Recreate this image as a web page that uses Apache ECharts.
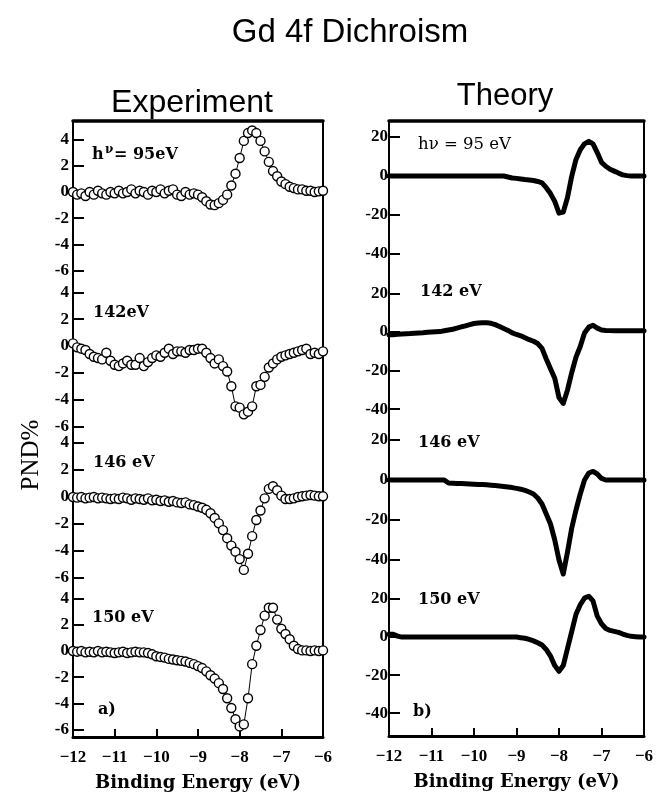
<!DOCTYPE html>
<html><head><meta charset="utf-8">
<script src="https://cdn.jsdelivr.net/npm/echarts@6/dist/echarts.min.js"></script>
<style>html,body{margin:0;padding:0;background:#fff}#c{width:658px;height:793px}</style>
</head><body><div id="c"></div>
<script>
// ---- data ----
const energy = [-12.0,-11.9,-11.8,-11.7,-11.6,-11.5,-11.4,-11.3,-11.2,-11.1,-11.0,-10.9,-10.8,-10.7,-10.6,-10.5,-10.4,-10.3,-10.2,-10.1,-10.0,-9.9,-9.8,-9.7,-9.6,-9.5,-9.4,-9.3,-9.2,-9.1,-9.0,-8.9,-8.8,-8.7,-8.6,-8.5,-8.4,-8.3,-8.2,-8.1,-8.0,-7.9,-7.8,-7.7,-7.6,-7.5,-7.4,-7.3,-7.2,-7.1,-7.0,-6.9,-6.8,-6.7,-6.6,-6.5,-6.4,-6.3,-6.2,-6.1,-6.0];

const exp95 = [0.0,-0.2,-0.1,-0.3,0.0,-0.2,0.1,-0.1,-0.2,0.0,
-0.1,0.1,-0.1,0.0,0.2,-0.1,0.1,0.0,-0.2,0.1,
0.0,0.2,-0.1,0.1,0.2,-0.2,-0.3,0.0,-0.2,-0.1,
-0.2,-0.4,-0.7,-0.95,-1.0,-0.85,-0.6,-0.2,0.5,1.4,
2.6,3.9,4.5,4.7,4.5,3.9,3.1,2.3,1.6,1.2,
0.8,0.6,0.4,0.3,0.2,0.2,0.1,0.1,0.0,0.05,
0.1];
const exp142 = [0.2,-0.1,-0.2,-0.3,-0.6,-0.8,-0.9,-1.0,-0.5,-1.1,
-1.4,-1.5,-1.3,-1.1,-1.4,-1.4,-0.9,-1.5,-1.2,-0.9,
-0.7,-0.8,-0.5,-0.2,-0.6,-0.4,-0.4,-0.5,-0.3,-0.3,
-0.2,-0.2,-0.5,-0.9,-1.3,-1.0,-1.5,-1.9,-3.0,-4.5,
-4.6,-5.1,-4.9,-4.5,-3.0,-2.9,-2.3,-1.6,-1.3,-1.0,
-0.8,-0.7,-0.6,-0.5,-0.4,-0.3,-0.2,-0.6,-0.5,-0.6,
-0.4];
const exp146 = [0.0,-0.05,0.0,-0.1,-0.05,0.0,-0.1,-0.05,-0.1,-0.15,
-0.1,-0.15,-0.05,-0.1,-0.2,-0.1,-0.15,-0.2,-0.1,-0.25,
-0.2,-0.3,-0.25,-0.35,-0.3,-0.4,-0.45,-0.4,-0.55,-0.6,
-0.7,-0.8,-0.95,-1.2,-1.55,-1.95,-2.45,-3.05,-3.6,-4.05,
-4.6,-5.4,-4.2,-2.9,-1.7,-1.0,-0.1,0.6,0.8,0.5,
0.1,-0.15,-0.15,-0.1,0.0,0.05,0.1,0.15,0.1,0.05,
0.05];
const exp150 = [0.0,-0.05,0.0,-0.1,-0.05,-0.1,0.0,-0.1,-0.05,-0.1,
-0.15,-0.1,-0.05,-0.15,-0.1,-0.05,-0.1,-0.1,-0.15,-0.25,
-0.4,-0.45,-0.5,-0.6,-0.65,-0.7,-0.75,-0.8,-0.9,-1.0,
-1.15,-1.3,-1.55,-1.85,-2.1,-2.45,-2.9,-3.6,-4.35,-5.2,
-5.75,-5.6,-3.6,-1.0,0.4,1.6,2.7,3.3,3.3,2.4,
1.7,1.3,0.9,0.4,0.15,0.05,0.05,0.0,0.05,0.0,
0.05];

const th95 = [0,0,0,0,0,0,0,0,0,0,
0,0,0,0,0,0,0,0,0,0,
0,0,0,0,0,0,0,0,-0.5,-1.0,
-1.2,-1.5,-1.8,-2.0,-2.3,-2.8,-3.5,-6,-9,-13,
-19,-18.5,-11,0,8.5,13.5,16.5,17.8,16.5,12,
7,5,3.5,2.5,1.5,0.6,0.2,0,0,0,
0];
const th142 = [-1.5,-1.5,-1.2,-1.0,-0.9,-0.8,-0.6,-0.5,-0.4,-0.2,
0,0.1,0.2,0.6,1.0,1.4,2.0,2.6,3.2,3.8,
4.4,4.6,4.8,4.8,4.5,3.8,2.8,1.8,0.8,-0.5,
-1.3,-2.0,-3.0,-4.0,-4.8,-6.0,-8.5,-14,-19,-24,
-34,-37,-30,-21,-13,-7.5,-0.5,2.5,3.5,2,
1.0,0.8,0.7,0.6,0.6,0.6,0.6,0.6,0.6,0.6,
0.6];
const th146 = [0,0,0,0,0,0,0,0,0,0,
0,0,0,0,-1.5,-1.6,-1.7,-1.8,-1.9,-2.0,
-2.1,-2.2,-2.3,-2.4,-2.6,-2.8,-3.0,-3.2,-3.5,-3.8,
-4.2,-4.6,-5.2,-6.0,-7.0,-9,-12,-17,-22,-30,
-40,-47,-36,-24,-15,-7,0,3.5,4.3,3,
0.8,0,0,0,0,0,0,0,0,0,
0];
const th150 = [1.5,1.5,0.5,0,0,0,0,0,0,0,
0,0,0,0,0,0,0,0,0,0,
0,0,0,0,0,0,0,0,0,0,
0,-0.3,-0.6,-1.2,-2.0,-3.0,-4.2,-6.5,-10,-15,
-18,-15,-6,3,12,17,20.5,21.5,19,11,
7,4.5,3.5,3,2.5,1.6,0.9,0.4,0.2,0,
0];

const leftTicks = [-6,-4,-2,0,2,4];
const rightTicks = [-40,-20,0,20];
const expLabels = ['142eV','146 eV','150 eV'];
const thLabels = ['hν = 95 eV','142 eV','146 eV','150 eV'];
const xTitle = 'Binding Energy (eV)';

// ---- layout ----
const LEFT = {left:73, width:250};
const RIGHT = {left:389, width:255};
const leftRows = [
  {top:121, height:160, min:-6.79, max:5.42, data:exp95},
  {top:281, height:152, min:-6.49, max:4.85, data:exp142},
  {top:433, height:155, min:-6.74, max:4.74, data:exp146},
  {top:588, height:149, min:-6.56, max:4.81, data:exp150}
];
const rightRows = [
  {top:121, height:160, min:-53.8, max:28.2, data:th95},
  {top:281, height:151, min:-51.8, max:26.4, data:th142},
  {top:432, height:156, min:-54, max:24, data:th146},
  {top:588, height:148, min:-52, max:25.8, data:th150}
];

const SERIF_B = 'Liberation Serif';
const grid = [], xAxis = [], yAxis = [], series = [];

function addPanel(col, row, idx, isLeft, ticks) {
  const gi = grid.length;
  grid.push({left: col.left, top: row.top, width: col.width, height: row.height});
  const xa = {
    type:'value', gridIndex: gi, min:-12, max:-6, interval:1,
    splitLine:{show:false},
    axisLine:{show:false, lineStyle:{color:'#000'}},
    axisTick:{show:false}, axisLabel:{show:false}
  };
  if (idx === 0) {
    xa.position = 'top';
    xa.axisLine = {show:true, onZero:false, lineStyle:{color:'#000', width:3.5}};
  } else if (idx === 3) {
    xa.position = 'bottom';
    xa.axisLine = {show:true, onZero:false, lineStyle:{color:'#000', width:3}};
    xa.axisTick = {show:true, inside:true, length:8, lineStyle:{color:'#000', width:2}};
    xa.axisLabel = {show:true, margin:12, color:'#000', fontFamily:SERIF_B, fontWeight:'bold', fontSize:17,
      formatter: v => (v < 0 ? '\u2212' : '') + Math.abs(v)};
    xa.name = xTitle;
    xa.nameLocation = 'middle';
    xa.nameGap = 37;
    xa.nameTextStyle = {color:'#000', fontFamily:'DejaVu Serif', fontWeight:'bold', fontSize:18};
  }
  xAxis.push(xa);
  const yi = yAxis.length;
  yAxis.push({
    type:'value', gridIndex: gi, min: row.min, max: row.max, position:'left',
    splitLine:{show:false},
    axisLine:{show:true, onZero:false, lineStyle:{color:'#000', width:2}},
    axisTick:{show:true, inside:true, length:11, lineStyle:{color:'#000', width:2}, customValues: ticks},
    axisLabel:{show:true, margin: isLeft ? 4 : 1, color:'#000', fontFamily:SERIF_B, fontWeight:'bold', fontSize:17, customValues: ticks}
  });
  yAxis.push({
    type:'value', gridIndex: gi, min: row.min, max: row.max, position:'right',
    splitLine:{show:false},
    axisLine:{show:true, onZero:false, lineStyle:{color:'#000', width:2}},
    axisTick:{show:false}, axisLabel:{show:false}
  });
  const pts = energy.map((e, j) => [e, row.data[j]]);
  if (isLeft) {
    series.push({
      type:'line', xAxisIndex: gi, yAxisIndex: yi, data: pts,
      symbol:'circle', symbolSize:9, showSymbol:true,
      itemStyle:{color:'#fff', borderColor:'#000', borderWidth:1.4},
      lineStyle:{color:'#000', width:1}, animation:false, silent:true
    });
  } else {
    series.push({
      type:'line', xAxisIndex: gi, yAxisIndex: yi, data: pts,
      showSymbol:false, symbol:'none',
      lineStyle:{color:'#000', width:5, join:'round', cap:'round'}, animation:false, silent:true
    });
  }
}
leftRows.forEach((r, i) => addPanel(LEFT, r, i, true, leftTicks));
rightRows.forEach((r, i) => addPanel(RIGHT, r, i, false, rightTicks));

function txt(x, y, text, font, align) {
  return {type:'text', x, y, silent:true, z:100,
    style:{text, font, fill:'#000', align: align || 'left', verticalAlign:'middle'}};
}
const PF = 'bold 16px "DejaVu Serif"';
const graphic = [
  txt(350, 33, 'Gd 4f Dichroism', '33px "Liberation Sans"', 'center'),
  txt(192, 103, 'Experiment', '32px "Liberation Sans"', 'center'),
  txt(505, 96, 'Theory', '31px "Liberation Sans"', 'center'),
  {type:'text', x:31, y:455, rotation:Math.PI/2, silent:true,
    style:{text:'PND%', font:'25px "Liberation Serif"', fill:'#000', align:'center', verticalAlign:'middle'}},
  txt(92, 155, 'h', PF),
  txt(105, 150, 'ν', 'bold 12px "DejaVu Serif"'),
  txt(114, 155, '= 95eV', PF),
  txt(93, 313, expLabels[0], PF),
  txt(93, 463, expLabels[1], PF),
  txt(92, 618, expLabels[2], PF),
  txt(98, 710, 'a)', PF),
  txt(418, 145, thLabels[0], '16.5px "DejaVu Serif"'),
  txt(420, 292, thLabels[1], PF),
  txt(418, 443, thLabels[2], PF),
  txt(418, 600, thLabels[3], PF),
  txt(413, 712, 'b)', PF)
];

const chart = echarts.init(document.getElementById('c'), null, {renderer:'canvas'});
chart.setOption({backgroundColor:'#fff', animation:false, grid, xAxis, yAxis, series, graphic});
</script></body></html>
